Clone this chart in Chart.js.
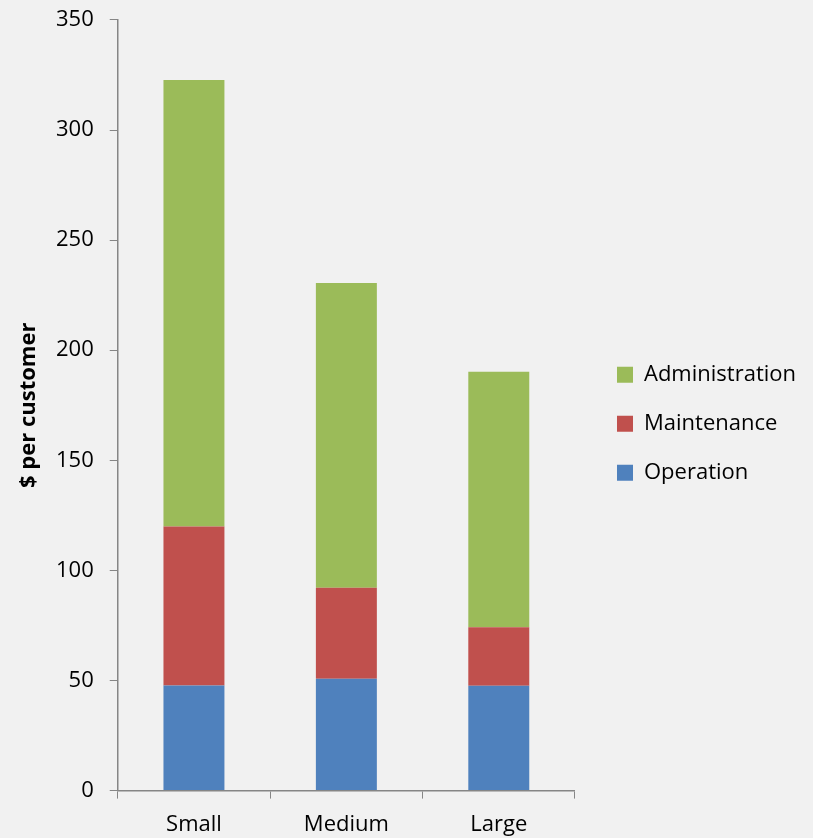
<!DOCTYPE html>
<html>
<head>
<meta charset="utf-8">
<script src="https://cdn.jsdelivr.net/npm/chart.js@4/dist/chart.umd.min.js"></script>
<style>
    html, body { margin: 0; padding: 0; background: #f1f1f1; }
    #wrap { width: 813px; height: 838px; }
</style>
</head>
<body>
<div id="wrap"><canvas id="cost_chart"></canvas></div>
<script>
    const labels = ['Small', 'Medium', 'Large'];

    const data_operation = [47.7, 50.8, 47.6];
    const data_maintenance = [72.3, 41.3, 26.6];
    const data_administration = [202.7, 138.4, 116];

    const y_ticks = [0, 50, 100, 150, 200, 250, 300, 350];

    const axis_gray = '#868686';
    const font_family = '"Open Sans", "DejaVu Sans", sans-serif';

    const data = {
        labels: labels,
        datasets: [
            {
                label: 'Operation',
                data: data_operation,
                backgroundColor: '#4f81bd',
            },
            {
                label: 'Maintenance',
                data: data_maintenance,
                backgroundColor: '#c0504d',
            },
            {
                label: 'Administration',
                data: data_administration,
                backgroundColor: '#9bbb59',
            }
        ]
    };

    const config = {
        type: 'bar',
        data: data,
        options: {
            responsive: true,
            maintainAspectRatio: false,
            animation: false,
            layout: {
                padding: { left: 0, top: 0, right: 7, bottom: -13 }
            },
            datasets: {
                bar: { categoryPercentage: 1, barPercentage: 0.4 }
            },
            plugins: {
                tooltip: { enabled: false },
                legend: {
                    position: 'right',
                    reverse: true,
                    fullSize: false,
                    // empty title only pushes the items down a bit
                    title: {
                        display: true,
                        text: '',
                        font: { size: 16, lineHeight: 1 },
                        padding: { top: 0, bottom: 21 }
                    },
                    labels: {
                        boxWidth: 16,
                        boxHeight: 16,
                        padding: 27,
                        color: '#000',
                        font: { family: font_family, size: 22 }
                    }
                }
            },
            scales: {
                x: {
                    stacked: true,
                    grid: {
                        drawOnChartArea: false,
                        drawTicks: true,
                        tickLength: 8,
                        color: axis_gray,
                        offset: true
                    },
                    border: { display: true, color: axis_gray, width: 1.5 },
                    ticks: {
                        color: '#000',
                        padding: 13,
                        font: { family: font_family, size: 22 }
                    }
                },
                y: {
                    stacked: true,
                    min: 0,
                    max: 350,
                    afterBuildTicks: (axis) => {
                        axis.ticks = y_ticks.map(v => ({ value: v }));
                    },
                    grid: {
                        drawOnChartArea: false,
                        drawTicks: true,
                        tickLength: 8,
                        color: axis_gray
                    },
                    border: { display: true, color: axis_gray, width: 1.5 },
                    ticks: {
                        color: '#000',
                        padding: 16,
                        font: { family: font_family, size: 22, lineHeight: 0.36 }
                    },
                    title: {
                        display: true,
                        text: '$ per customer',
                        color: '#000',
                        padding: { top: 18, bottom: 0 },
                        font: { family: font_family, size: 22, weight: 'bold', lineHeight: 1 }
                    }
                },
                // empty axis, only keeps a gap between the plot and the legend
                gap: {
                    type: 'linear',
                    position: 'right',
                    display: true,
                    grid: { display: false },
                    border: { display: false },
                    ticks: { display: false },
                    afterFit: (axis) => { axis.width = 15; }
                }
            }
        }
    };

    const cost_chart = new Chart(
        document.getElementById('cost_chart'),
        config
    );

    // the legend is wider than chart.js allows for a side box by default
    const legend_update = cost_chart.legend.update;
    cost_chart.legend.update = function (maxWidth, maxHeight, margins) {
        legend_update.call(this, 320, maxHeight, margins);
    };
    cost_chart.update();
</script>
</body>
</html>
